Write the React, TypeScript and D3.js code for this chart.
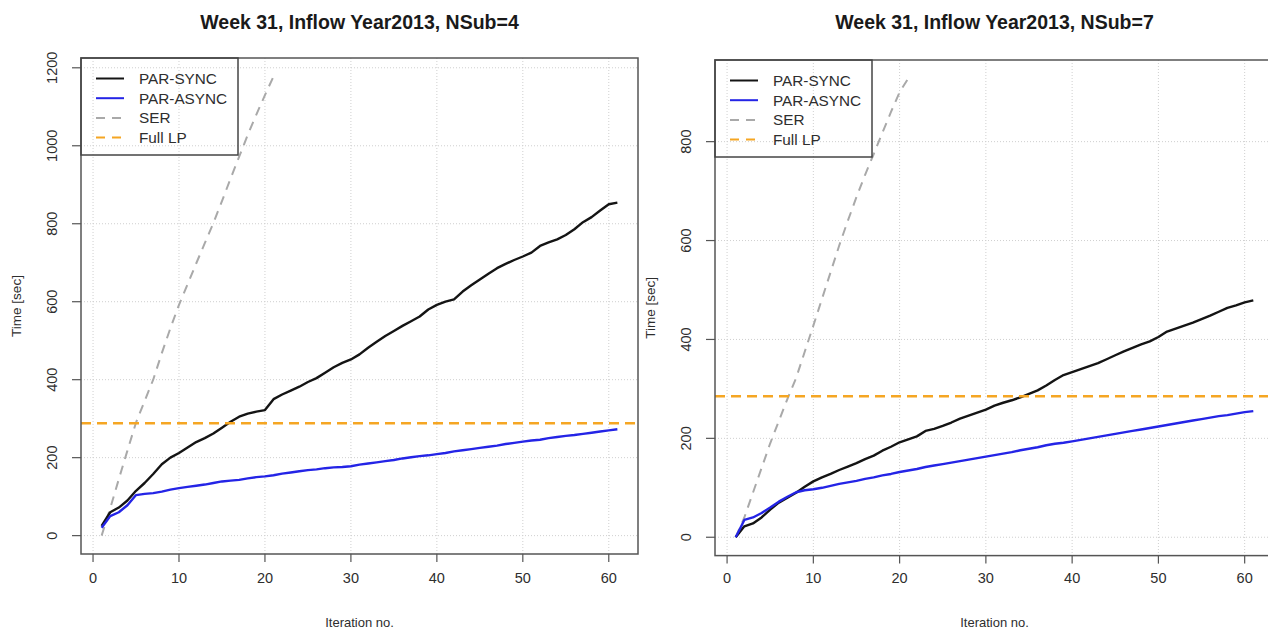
import React from 'react';
import * as d3 from 'd3';

// ---------- data ----------
const leftTitle = 'Week 31, Inflow Year2013, NSub=4';
const rightTitle = 'Week 31, Inflow Year2013, NSub=7';
const xLabel = 'Iteration no.';
const yLabel = 'Time [sec]';
const legendLabels = ['PAR-SYNC', 'PAR-ASYNC', 'SER', 'Full LP'];

const xTicks = [0, 10, 20, 30, 40, 50, 60];
const leftYTicks = [0, 200, 400, 600, 800, 1000, 1200];
const rightYTicks = [0, 200, 400, 600, 800];

const leftSync = [25, 60, 72, 90, 115, 135, 158, 183, 200, 212,
  226, 240, 250, 262, 277, 292, 305, 313, 318, 322,
  350, 362, 372, 382, 394, 404, 418, 432, 443, 452,
  465, 482, 497, 512, 525, 538, 550, 562, 580, 592,
  600, 606, 626, 642, 657, 672, 686, 697, 707, 716,
  726, 743, 752, 760, 771, 786, 804, 817, 834, 850,
  854];
const leftAsync = [20, 50, 60, 78, 104, 107, 109, 113, 118, 122,
  125, 128, 131, 135, 139, 141, 143, 147, 150, 152,
  155, 159, 162, 165, 168, 170, 173, 175, 176, 178,
  182, 185, 188, 191, 194, 198, 201, 204, 206, 209,
  212, 216, 219, 222, 225, 228, 231, 235, 238, 241,
  244, 246, 250, 253, 256, 258, 261, 264, 267, 270,
  273];
const leftSer = [0, 70, 145, 218, 290, 345, 400, 468, 532, 592, 645, 698, 750, 802, 858, 916, 972, 1028, 1080, 1130, 1178];
const leftFullLP = 288;

const rightSync = [0, 22, 28, 40, 56, 70, 80, 90, 102, 113,
  121, 128, 136, 143, 150, 158, 165, 175, 183, 192,
  198, 204, 215, 219, 225, 232, 240, 246, 252, 258,
  266, 272, 277, 283, 290, 297, 307, 318, 328, 334,
  340, 346, 352, 360, 368, 376, 383, 390, 396, 405,
  416, 422, 428, 434, 441, 448, 456, 464, 469, 475,
  479];
const rightAsync = [0, 35, 40, 49, 60, 72, 82, 91, 95, 97,
  100, 104, 108, 111, 114, 118, 121, 125, 128, 132,
  135, 138, 142, 145, 148, 151, 154, 157, 160, 163,
  166, 169, 172, 176, 179, 182, 186, 189, 191, 194,
  197, 200, 203, 206, 209, 212, 215, 218, 221, 224,
  227, 230, 233, 236, 239, 242, 245, 247, 250, 253,
  255];
const rightSer = [0, 40, 90, 140, 190, 235, 280, 322, 375, 428, 482, 536, 590, 640, 688, 733, 775, 818, 860, 900, 928];
const rightFullLP = 285;

// ---------- styles ----------
const FONT = '"Liberation Sans", Arial, Helvetica, sans-serif';
const COL_SYNC = '#141414';
const COL_ASYNC = '#2424e6';
const COL_SER = '#a9a9a9';
const COL_LP = '#f5a623';
const COL_AXIS = '#555';
const COL_TEXT = '#2e2e2e';

type Box = { left: number; right: number; top: number; bottom: number };

function Panel(props: {
  id: string; title: string; sync: number[]; async: number[]; ser: number[];
  fullLP: number; yTicks: number[]; box: Box;
}) {
  const { id, title, sync, async, ser, fullLP, yTicks, box } = props;
  const n = sync.length;
  const xPad = (n - 1) * 0.04;
  const x = d3.scaleLinear().domain([1 - xPad, n + xPad]).range([box.left, box.right]);
  const all = [...sync, ...async, ...ser];
  const [ymin, ymax] = d3.extent(all) as [number, number];
  const yPad = (ymax - ymin) * 0.04;
  const y = d3.scaleLinear().domain([ymin - yPad, ymax + yPad]).range([box.bottom, box.top]);
  const line = d3.line<number>().x((_, i) => x(i + 1)).y((d) => y(d));
  const cx = (box.left + box.right) / 2;
  const cy = (box.top + box.bottom) / 2;
  const lg = { x: box.left, y: box.top, w: 157, h: 97 };
  const legendStyles = [
    { stroke: COL_SYNC, dash: undefined as string | undefined },
    { stroke: COL_ASYNC, dash: undefined },
    { stroke: COL_SER, dash: '9 7' },
    { stroke: COL_LP, dash: '9 7' },
  ];
  return (
    <g>
      <defs>
        <clipPath id={id}>
          <rect x={box.left} y={box.top} width={box.right - box.left} height={box.bottom - box.top} />
        </clipPath>
      </defs>
      <text x={cx} y={29} textAnchor="middle" fontFamily={FONT} fontWeight="bold" fontSize={19.5} fill="#1a1a1a">{title}</text>
      {/* grid */}
      <g clipPath={`url(#${id})`}>
        {xTicks.map((t) => (
          <line key={'gx' + t} x1={x(t)} x2={x(t)} y1={box.top} y2={box.bottom} stroke="#cfcfcf" strokeDasharray="1 2" />
        ))}
        {yTicks.map((t) => (
          <line key={'gy' + t} x1={box.left} x2={box.right} y1={y(t)} y2={y(t)} stroke="#cfcfcf" strokeDasharray="1 2" />
        ))}
        <path d={line(ser) || ''} fill="none" stroke={COL_SER} strokeWidth={2} strokeDasharray="9 7" />
        <path d={line(sync) || ''} fill="none" stroke={COL_SYNC} strokeWidth={2.4} strokeLinejoin="round" />
        <path d={line(async) || ''} fill="none" stroke={COL_ASYNC} strokeWidth={2.4} strokeLinejoin="round" />
        <line x1={box.left} x2={box.right} y1={y(fullLP)} y2={y(fullLP)} stroke={COL_LP} strokeWidth={2.5} strokeDasharray="10 6" />
      </g>
      {/* box */}
      <rect x={box.left} y={box.top} width={box.right - box.left} height={box.bottom - box.top} fill="none" stroke={COL_AXIS} strokeWidth={1.5} />
      {/* x axis */}
      {xTicks.map((t) => (
        <g key={'xt' + t}>
          <line x1={x(t)} x2={x(t)} y1={box.bottom} y2={box.bottom + 8} stroke={COL_AXIS} strokeWidth={1.2} />
          <text x={x(t)} y={583} textAnchor="middle" fontFamily={FONT} fontSize={14.5} fill={COL_TEXT}>{t}</text>
        </g>
      ))}
      <text x={cx} y={627} textAnchor="middle" fontFamily={FONT} fontSize={13} fill={COL_TEXT}>{xLabel}</text>
      {/* y axis */}
      {yTicks.map((t) => (
        <g key={'yt' + t}>
          <line x1={box.left - 9} x2={box.left} y1={y(t)} y2={y(t)} stroke={COL_AXIS} strokeWidth={1.2} />
          <text transform={`translate(${box.left - 29},${y(t)}) rotate(-90)`} dy="0.35em" textAnchor="middle" fontFamily={FONT} fontSize={14.5} fill={COL_TEXT}>{t}</text>
        </g>
      ))}
      <text transform={`translate(${box.left - 65},${cy}) rotate(-90)`} dy="0.35em" textAnchor="middle" fontFamily={FONT} fontSize={13.5} fill={COL_TEXT}>{yLabel}</text>
      {/* legend */}
      <rect x={lg.x} y={lg.y} width={lg.w} height={lg.h} fill="none" stroke="#444" strokeWidth={1.5} />
      {legendLabels.map((lab, i) => {
        const ry = lg.y + 20.5 + i * 19.7;
        const st = legendStyles[i];
        return (
          <g key={lab}>
            <line x1={lg.x + 15} x2={lg.x + 43} y1={ry} y2={ry} stroke={st.stroke} strokeWidth={2} strokeDasharray={st.dash} />
            <text x={lg.x + 58} y={ry} dy="0.36em" fontFamily={FONT} fontSize={15.3} fill={COL_TEXT}>{lab}</text>
          </g>
        );
      })}
    </g>
  );
}

export default function App() {
  return (
    <svg width={1268} height={633} style={{ position: 'absolute', left: 0, top: 0, background: '#fff' }}>
      <rect width={1268} height={633} fill="#fff" />
      <Panel id="clipL" title={leftTitle} sync={leftSync} async={leftAsync} ser={leftSer} fullLP={leftFullLP}
        yTicks={leftYTicks} box={{ left: 81, right: 638, top: 58, bottom: 554 }} />
      <Panel id="clipR" title={rightTitle} sync={rightSync} async={rightAsync} ser={rightSer} fullLP={rightFullLP}
        yTicks={rightYTicks} box={{ left: 715, right: 1274, top: 60, bottom: 555.6 }} />
    </svg>
  );
}
